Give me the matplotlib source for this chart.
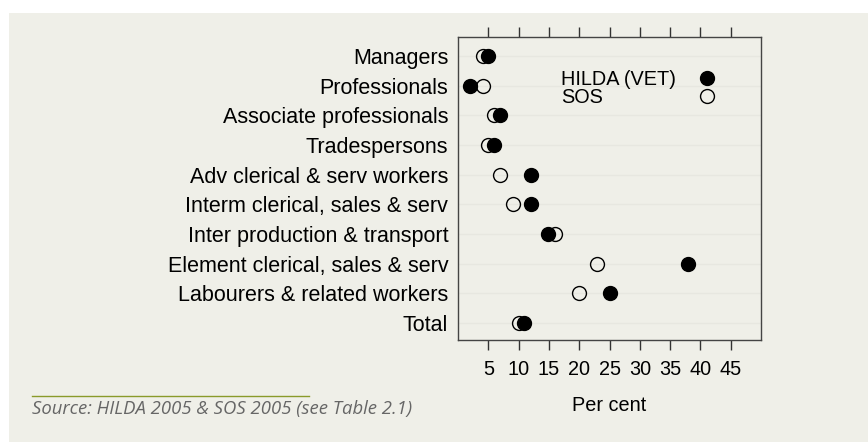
import numpy as np
import matplotlib.pyplot as plt
from matplotlib.patches import Rectangle
from matplotlib.lines import Line2D

# Occupation groups, top to bottom
occupations = ["Managers", "Professionals", "Associate professionals",
               "Tradespersons", "Adv clerical & serv workers",
               "Interm clerical, sales & serv", "Inter production & transport",
               "Element clerical, sales & serv", "Labourers & related workers",
               "Total"]
hilda_vet = [5.0, 2.0, 6.9, 5.9, 12.0, 12.0, 14.9, 38.0, 25.0, 10.9]
sos = [4.1, 4.1, 5.9, 5.0, 6.9, 9.0, 16.0, 23.0, 20.0, 10.0]
xticks = [5, 10, 15, 20, 25, 30, 35, 40, 45]
series_names = ["HILDA (VET)", "SOS"]

bg = "#efefe8"
font = "Liberation Sans"

fig = plt.figure(figsize=(8.68, 4.42), dpi=100)
fig.patch.set_facecolor("white")
fig.patches.append(Rectangle((9 / 868, 0), 1, 1 - 13 / 442,
                             transform=fig.transFigure, facecolor=bg,
                             edgecolor="none", zorder=-5))

ax = fig.add_axes([458 / 868, 102 / 442, 303 / 868, 303 / 442])
ax.set_facecolor(bg)

pos = np.arange(1, len(occupations) + 1)
for p in pos:
    ax.axhline(p, color="#e7e7e0", lw=1, zorder=0)

ax.plot(sos, pos, "o", ls="none", ms=10, mfc="none", mec="black", mew=1,
        zorder=3)
ax.plot(hilda_vet, pos, "o", ls="none", ms=10, mfc="black", mec="black",
        zorder=4)

ax.set_xlim(0, 50)
ax.set_ylim(10.58, 0.36)
ax.set_xticks(xticks)
ax.set_xticklabels([str(t) for t in xticks], fontfamily=font, fontsize=14.3)
ax.set_yticks(pos)
ax.set_yticklabels(occupations, fontfamily=font, fontsize=15.5)
ax.tick_params(axis="x", which="both", top=True, bottom=True,
               direction="out", length=7, width=1, color="#333333", pad=7.5)
ax.tick_params(axis="y", length=0, pad=7)
for s in ax.spines.values():
    s.set_color("#444444")
    s.set_linewidth(1)

ax.set_xlabel("Per cent", fontfamily=font, fontsize=14.3, labelpad=12)

# legend: left-aligned labels, markers in a column to the right
hidden = [Line2D([], [], ls="none"), Line2D([], [], ls="none")]
leg_text = ax.legend(hidden, series_names, loc="upper left",
                     bbox_to_anchor=(0.34, 0.892), frameon=False,
                     handlelength=0, handletextpad=0, labelspacing=-0.05,
                     borderpad=0, borderaxespad=0,
                     prop={"family": font, "size": 14.3})
ax.add_artist(leg_text)

handles = [Line2D([], [], marker="o", ls="none", ms=10, mfc="black",
                  mec="black"),
           Line2D([], [], marker="o", ls="none", ms=10, mfc="none",
                  mec="black", mew=1)]
ax.legend(handles, [" ", " "], loc="upper left",
          bbox_to_anchor=(0.789, 0.892), frameon=False,
          handlelength=1, handletextpad=0, labelspacing=-0.05,
          borderpad=0, borderaxespad=0,
          prop={"family": font, "size": 14.3})

# source note
fig.add_artist(Line2D([32 / 868, 309 / 868], [1 - 396 / 442, 1 - 396 / 442],
                      color="#8a9a2a", lw=1))
fig.text(32 / 868, 1 - 409 / 442, "Source: HILDA 2005 & SOS 2005 (see Table 2.1)",
         fontfamily="Open Sans", style="italic", fontsize=13.3,
         color="#666666", va="center", ha="left")

fig.savefig("out.png", dpi=100, facecolor=fig.get_facecolor())
